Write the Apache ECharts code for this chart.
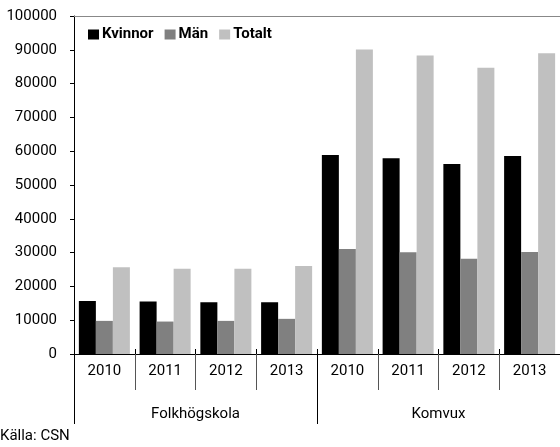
<!DOCTYPE html>
<html>
<head>
<meta charset="utf-8">
<script src="https://cdn.jsdelivr.net/npm/echarts@6/dist/echarts.min.js"></script>
<style>
  html, body { margin: 0; padding: 0; background: #fff; }
  #chart { width: 560px; height: 447px; }
</style>
</head>
<body>
<div id="chart"></div>
<script>
// data
var years = ['2010', '2011', '2012', '2013', '2010', '2011', '2012', '2013'];
var groups = ['Folkhögskola', 'Komvux'];
var kvinnor = [15700, 15500, 15300, 15300, 58900, 57900, 56200, 58600];
var man = [9800, 9600, 9800, 10400, 31100, 30100, 28200, 30200];
var totalt = [25700, 25200, 25200, 26000, 90100, 88300, 84700, 89000];
var yTicks = { min: 0, max: 100000, step: 10000 };

var font = 'Roboto, "DejaVu Sans Condensed", sans-serif';

var chart = echarts.init(document.getElementById('chart'));

var option = {
    animation: false,
    textStyle: { fontFamily: font },
    title: {
        text: 'Källa: CSN',
        left: 0,
        bottom: 3,
        padding: 0,
        textStyle: { fontFamily: font, fontSize: 15, fontWeight: 'normal', color: '#000' }
    },
    legend: {
        left: 88,
        top: 27,
        padding: 0,
        icon: 'rect',
        itemWidth: 11,
        itemHeight: 10,
        itemGap: 11,
        textStyle: { fontFamily: font, fontSize: 15, fontWeight: 'bold', color: '#000', padding: [0, 0, 0, -2] },
        data: ['Kvinnor', 'Män', 'Totalt']
    },
    grid: { left: 74, top: 16, right: -4, bottom: 93 },
    xAxis: [
        {
            type: 'category',
            data: years,
            position: 'bottom',
            axisLine: { lineStyle: { color: '#000', width: 1 } },
            axisTick: { show: true, interval: 0, length: 36, lineStyle: { color: '#555' } },
            axisLabel: { interval: 0, margin: 10, color: '#000', fontSize: 15, fontFamily: font },
            splitLine: { show: false }
        },
        {
            type: 'category',
            data: years,
            position: 'bottom',
            axisLine: { show: false },
            axisTick: { show: true, inside: true, interval: 0, length: 5, lineStyle: { color: '#000' } },
            axisLabel: { show: false }
        },
        {
            type: 'category',
            data: groups,
            position: 'bottom',
            axisLine: { show: false },
            axisTick: { show: true, interval: 0, length: 70, lineStyle: { color: '#000' } },
            axisLabel: { interval: 0, margin: 53, color: '#000', fontSize: 15, fontFamily: font }
        },
        {
            type: 'category',
            data: groups,
            position: 'top',
            axisLine: { lineStyle: { color: '#888', width: 1 } },
            axisTick: { show: false },
            axisLabel: { show: false }
        }
    ],
    yAxis: {
        type: 'value',
        min: yTicks.min,
        max: yTicks.max,
        interval: yTicks.step,
        axisLine: { show: true, lineStyle: { color: '#000' } },
        axisTick: { show: true, length: 4, lineStyle: { color: '#000' } },
        axisLabel: {
            margin: 17, color: '#000', fontSize: 15, fontFamily: font,
            formatter: function (v) { return String(v); }
        },
        splitLine: { show: false }
    },
    series: [
        { name: 'Kvinnor', type: 'bar', xAxisIndex: 0, data: kvinnor, itemStyle: { color: '#000000' }, barGap: 0, barCategoryGap: '16%' },
        { name: 'Män', type: 'bar', xAxisIndex: 0, data: man, itemStyle: { color: '#808080' } },
        { name: 'Totalt', type: 'bar', xAxisIndex: 0, data: totalt, itemStyle: { color: '#c0c0c0' } }
    ]
};

chart.setOption(option);
</script>
</body>
</html>
